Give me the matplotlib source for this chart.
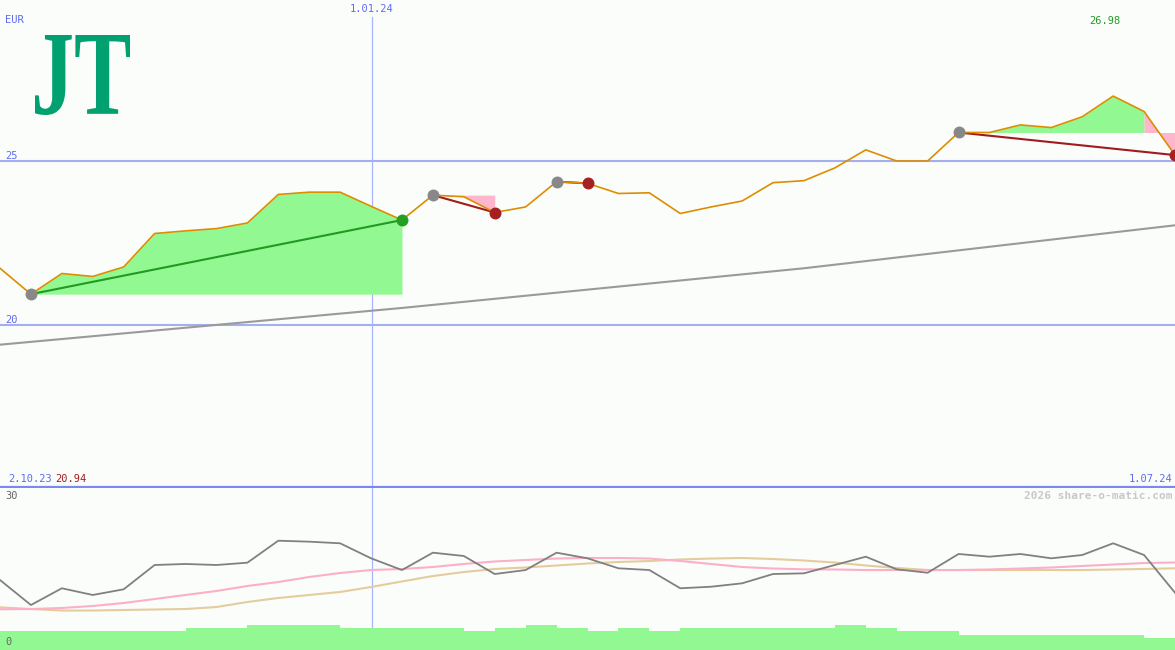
import matplotlib
matplotlib.use("Agg")
import matplotlib.pyplot as plt
import numpy as np
from matplotlib.textpath import TextPath
from matplotlib.patches import PathPatch
from matplotlib.font_manager import FontProperties
from matplotlib.transforms import Affine2D

# ----------------------------------------------------------------------------
# Data (weekly points)
# ----------------------------------------------------------------------------

price = [21.73, 20.94, 21.57, 21.48, 21.77, 22.79, 22.87, 22.94, 23.11, 23.98,
         24.05, 24.05, 23.62, 23.20, 23.96, 23.91, 23.43, 23.60, 24.37, 24.32,
         24.01, 24.03, 23.40, 23.60, 23.78, 24.34, 24.40, 24.79, 25.34, 25.00,
         25.00, 25.87, 25.87, 26.10, 26.02, 26.35, 26.98, 26.51, 25.18]

trend_idx = [0, 13, 26, 38]
trend_val = [19.40, 20.52, 21.73, 23.04]

# signal segments: (start index, end index)
up_segments = [(1, 13)]
down_segments = [(14, 16), (18, 19)]
mixed_segment = (31, 38, 37)   # start, end, index where gain turns into loss
gray_dots = [1, 14, 18, 31]
green_dots = [13]
red_dots = [16, 19, 38]

osc = [12.96, 8.33, 11.43, 10.19, 11.24, 15.74, 15.93, 15.74, 16.17, 20.24,
       20.06, 19.76, 16.98, 14.81, 18.02, 17.41, 14.07, 14.81, 18.02, 16.98,
       15.13, 14.81, 11.43, 11.72, 12.35, 14.07, 14.20, 15.74, 17.28, 14.94,
       14.31, 17.78, 17.28, 17.78, 16.98, 17.59, 19.76, 17.59, 10.61]
osc_fast = [7.54, 7.59, 7.78, 8.15, 8.70, 9.44, 10.19, 10.93, 11.85, 12.59,
            13.52, 14.26, 14.81, 15.00, 15.37, 15.93, 16.39, 16.67, 16.94, 17.04,
            17.04, 16.94, 16.48, 15.93, 15.37, 15.09, 14.94, 14.91, 14.81, 14.81,
            14.81, 14.81, 14.91, 15.09, 15.28, 15.56, 15.83, 16.11, 16.20]
osc_slow = [7.91, 7.59, 7.31, 7.31, 7.41, 7.50, 7.59, 7.96, 8.89, 9.63,
            10.19, 10.74, 11.67, 12.69, 13.70, 14.44, 15.00, 15.28, 15.65, 16.02,
            16.30, 16.48, 16.76, 16.94, 17.04, 16.85, 16.57, 16.20, 15.65, 15.19,
            14.81, 14.81, 14.81, 14.81, 14.81, 14.81, 14.91, 15.00, 15.13]
volume = [3.5, 3.5, 3.5, 3.5, 3.5, 3.5, 4.1, 4.1, 4.6, 4.6,
          4.6, 4.1, 4.1, 4.1, 4.1, 3.5, 4.1, 4.6, 4.1, 3.5,
          4.1, 3.5, 4.1, 4.1, 4.1, 4.1, 4.1, 4.6, 4.1, 3.5,
          3.5, 2.8, 2.8, 2.8, 2.8, 2.8, 2.8, 2.3]

jan1_pos = 12.03
label_start, label_end, label_mid = "2.10.23", "1.07.24", "1.01.24"
label_min, label_max = "20.94", "26.98"

# ----------------------------------------------------------------------------
# Style
# ----------------------------------------------------------------------------

W, H, DPI = 1175, 650, 100
BG = "#fbfdfb"
BLUE_TXT = "#5c6cf0"
GRID = "#a4aef0"
SEP = "#7a88f0"
ORANGE = "#dd8d00"
FILL_G = "#92f992"
FILL_P = "#fdb6cc"
MONO = "DejaVu Sans Mono"

x = np.arange(len(price))
p = np.array(price)

fig = plt.figure(figsize=(W / DPI, H / DPI), dpi=DPI, facecolor=BG)
ax = fig.add_axes([0, 1 - 487 / H, 1, 487 / H], facecolor=BG)
ax2 = fig.add_axes([0, 0, 1, 162 / H], facecolor=BG)

for a in (ax, ax2):
    a.set_xlim(0, len(price) - 1)
    a.set_xticks([]); a.set_yticks([])
    for s in a.spines.values():
        s.set_visible(False)

# price panel
ax.set_ylim(15.061, 29.909)
ax.spines["bottom"].set_visible(True)
ax.spines["bottom"].set_color(SEP)
ax.spines["bottom"].set_linewidth(1.6)
for lvl in (20, 25):
    ax.axhline(lvl, color=GRID, lw=1.5, zorder=1)
ax.axvline(jan1_pos, ymin=0, ymax=1 - 17 / 487, color="#a8b4ff", lw=0.9, zorder=1)

ax.plot(trend_idx, trend_val, color="#9a9a9a", lw=1.5, zorder=2)

for s, e in up_segments:
    xs = x[s:e + 1]
    ax.fill_between(xs, p[s:e + 1], p[s], color=FILL_G, lw=0, zorder=2)
    ax.plot([s, e], [p[s], p[e]], color="#229922", lw=1.5, zorder=4)
for s, e in down_segments:
    xs = x[s:e + 1]
    ax.fill_between(xs, p[s:e + 1], p[s], color=FILL_P, lw=0, zorder=2)
    ax.plot([s, e], [p[s], p[e]], color="#a01c1c", lw=1.5, zorder=4)
s, e, t = mixed_segment
ax.fill_between(x[s:t + 1], p[s:t + 1], p[s], color=FILL_G, lw=0, zorder=2)
ax.fill_between(x[t:e + 1], p[t:e + 1], p[s], color=FILL_P, lw=0, zorder=2)
ax.plot([s, e], [p[s], p[e]], color="#a01c1c", lw=1.5, zorder=4)

ax.plot(x, p, color=ORANGE, lw=1.2, zorder=5)
ax.plot(gray_dots, p[gray_dots], "o", color="#888888", ms=8.6, mew=0, zorder=6)
ax.plot(green_dots, p[green_dots], "o", color="#22a022", ms=8.6, mew=0, zorder=6)
ax.plot(red_dots, p[red_dots], "o", color="#a52020", ms=8.6, mew=0, zorder=6)

# lower panel
ax2.set_ylim(0, 30)
ax2.axvline(jan1_pos, color="#a8b4ff", lw=0.9, zorder=1)
ax2.bar(x[:-1], volume, width=1.0, align="edge", color=FILL_G, lw=0, zorder=2)
ax2.plot(x, osc_slow, color="#e4cc9c", lw=1.5, zorder=3)
ax2.plot(x, osc_fast, color="#fcb0c8", lw=1.5, zorder=3)
ax2.plot(x, osc, color="#808080", lw=1.3, zorder=4)


def ptext(px, py, s, **kw):
    kw.setdefault("family", MONO)
    kw.setdefault("fontsize", 7.5)
    fig.text(px / W, 1 - py / H, s, va="center", **kw)


ptext(5, 20, "EUR", color=BLUE_TXT)
ptext(5, 156, "25", color=BLUE_TXT)
ptext(5, 320, "20", color=BLUE_TXT)
ptext(372, 9, label_mid, color=BLUE_TXT, ha="center")
ptext(8, 479, label_start, color=BLUE_TXT)
ptext(55, 479, label_min, color="#a01c1c")
ptext(1172, 479, label_end, color=BLUE_TXT, ha="right")
ptext(1105, 21, label_max, color="#229922", ha="center")
ptext(5, 496, "30", color="#666666")
ptext(5, 642, "0", color="#666666")
ptext(1172, 496, "2026 share-o-matic.com", color="#c8c8c8", ha="right",
      fontsize=8, weight="bold")

# JT logo, squeezed into its box (pixel coords)
path = TextPath((0, 0), "JT", size=100,
                prop=FontProperties(family="Liberation Serif", weight="bold"))
ext = path.get_extents()
tr = (Affine2D().translate(-ext.x0, -ext.y0)
      .scale(95 / ext.width, 80 / ext.height)
      .translate(35, H - 115))
fig.add_artist(PathPatch(path, transform=tr, color="#00a070", lw=0))

fig.savefig("out.png", dpi=DPI, facecolor=BG)
